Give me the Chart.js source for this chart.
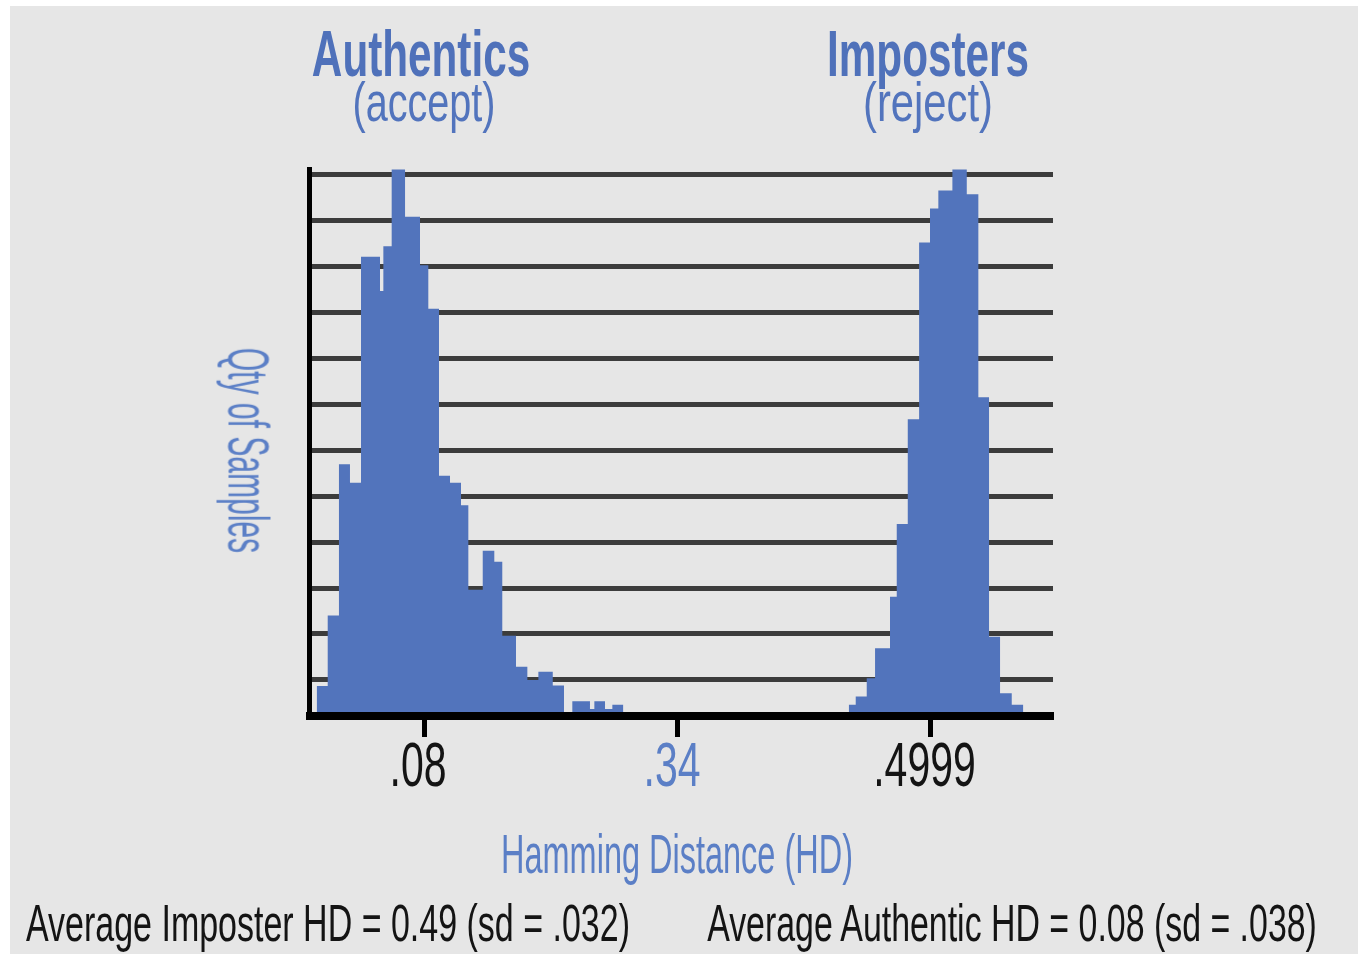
<!DOCTYPE html>
<html>
<head>
<meta charset="utf-8">
<script src="https://cdn.jsdelivr.net/npm/chart.js@4.4.1/dist/chart.umd.min.js"></script>
<style>
html,body{margin:0;padding:0;background:#fff;width:1358px;height:954px;overflow:hidden;}
#panel{position:absolute;left:10px;top:6px;width:1348px;height:948px;background:#e6e6e6;}
#c{position:absolute;left:0;top:0;width:1358px;height:954px;}
.t{position:absolute;white-space:nowrap;font-family:"Liberation Sans",Arial,sans-serif;transform-origin:50% 50%;}
.head{color:#4f71ba;font-weight:bold;font-size:64px;line-height:64px;top:21.8px;}
.sub{color:#5274bd;font-size:56px;line-height:56px;top:73.6px;}
.axt{color:#5b7fc6;}
.foot{color:#141414;font-size:51.5px;line-height:51.5px;top:898.4px;}
</style>
</head>
<body>
<div id="panel"></div>
<canvas id="c" width="1358" height="954"></canvas>

<div class="t head" style="left:421px;transform:translateX(-50%) scaleX(0.66);">Authentics</div>
<div class="t sub" style="left:423.8px;transform:translateX(-50%) scaleX(0.707);">(accept)</div>
<div class="t head" style="left:927.7px;transform:translateX(-50%) scaleX(0.66);">Imposters</div>
<div class="t sub" style="left:928.1px;transform:translateX(-50%) scaleX(0.746);">(reject)</div>
<div class="t axt" style="left:247.8px;top:421.5px;font-size:57px;line-height:57px;transform:translateX(-50%) rotate(90deg) scaleX(0.527);">Qty of Samples</div>
<div class="t axt" style="left:676.5px;top:825.6px;font-size:56px;line-height:56px;transform:translateX(-50%) scaleX(0.58);">Hamming Distance (HD)</div>
<div class="t foot" style="left:327.7px;transform:translateX(-50%) scaleX(0.66);">Average Imposter HD = 0.49 (sd = .032)</div>
<div class="t foot" style="left:1012px;transform:translateX(-50%) scaleX(0.658);">Average Authentic HD = 0.08 (sd = .038)</div>

<script>
// Histogram bins (x in bin units along the HD axis, y in sample-count grid units)
const authEdges  = [0, 0.98, 1.98, 2.96, 3.94, 5.63, 5.93, 6.67, 7.86, 9.19, 9.93, 10.88, 11.86, 12.84, 13.49, 14.77, 15.80, 16.51, 17.73, 18.74, 19.72, 21.0, 22.0, 22.74, 24.31, 24.70, 25.65, 26.30, 27.28];
const authCounts = [0.87, 2.40, 5.69, 5.29, 10.20, 9.46, 10.43, 12.10, 11.07, 10.02, 9.07, 5.44, 5.29, 4.80, 2.96, 3.81, 3.57, 1.96, 1.29, 1.00, 1.18, 0.88, 0, 0.54, 0.37, 0.54, 0.37, 0.46];

const impEdges  = [47.33, 47.95, 48.93, 49.67, 51.0, 51.60, 52.58, 53.59, 54.56, 55.30, 56.55, 57.83, 58.86, 59.81, 60.79, 61.83, 62.86];
const impCounts = [0.46, 0.64, 1.04, 1.69, 2.81, 4.39, 6.67, 10.51, 11.25, 11.64, 12.10, 11.56, 7.15, 1.94, 0.71, 0.46];

const tickValues = [9.55, 32.14, 54.6];
const tickLabels = ['.08', '.34', '.4999'];
const tickColors = ['#141414', '#5b7fc6', '#141414'];
const gridValues = [1, 2, 3, 4, 5, 6, 7, 8, 9, 10, 11, 12];

const BAR = '#5274bc';
const TICK_SQUEEZE = 0.65;
const LABEL_NUDGE = -6;

function stepPoints(edges, counts) {
  const pts = counts.map((c, i) => ({ x: edges[i], y: c }));
  pts.push({ x: edges[edges.length - 1], y: 0 });
  return pts;
}

const canvas = document.getElementById('c');
const ctx = canvas.getContext('2d');
// condensed lettering for canvas text (tick labels)
const origFill = ctx.fillText.bind(ctx);
ctx.fillText = function (text, x, y, maxW) {
  this.save();
  this.translate(x + LABEL_NUDGE, y);
  this.scale(TICK_SQUEEZE, 1);
  if (maxW === undefined) origFill(text, 0, 0); else origFill(text, 0, 0, maxW / TICK_SQUEEZE);
  this.restore();
};

new Chart(ctx, {
  type: 'line',
  data: {
    datasets: [
      { label: 'Authentics', data: stepPoints(authEdges, authCounts), stepped: true, fill: 'origin',
        backgroundColor: BAR, borderColor: BAR, borderWidth: 0, pointRadius: 0, tension: 0 },
      { label: 'Imposters', data: stepPoints(impEdges, impCounts), stepped: true, fill: 'origin',
        backgroundColor: BAR, borderColor: BAR, borderWidth: 0, pointRadius: 0, tension: 0 }
    ]
  },
  options: {
    responsive: false,
    animation: false,
    events: [],
    layout: { padding: { left: 309.5, top: 169, right: 305, bottom: 138 } },
    plugins: { legend: { display: false }, tooltip: { enabled: false }, title: { display: false } },
    scales: {
      x: {
        type: 'linear', min: -0.64, max: 65.5,
        afterBuildTicks: s => { s.ticks = tickValues.map(v => ({ value: v })); },
        afterFit: s => { s.height = 100; },
        grid: { display: true, drawOnChartArea: false, drawTicks: true, tickLength: 21, tickWidth: 5, tickColor: '#000', color: '#000' },
        border: { display: true, color: '#000', width: 8, z: 1 },
        ticks: {
          autoSkip: false, maxRotation: 0, minRotation: 0, padding: 0,
          font: { family: 'Liberation Sans', size: 63, lineHeight: 1 },
          color: c => tickColors[c.index],
          callback: (v, i) => tickLabels[i]
        }
      },
      y: {
        type: 'linear', min: 0.217, max: 12.11,
        afterBuildTicks: s => { s.ticks = gridValues.map(v => ({ value: v })); },
        afterFit: s => { s.width = 0; },
        grid: { color: '#3c3c3c', lineWidth: 5, drawTicks: false },
        border: { display: true, color: '#000', width: 5, z: 1 },
        ticks: { display: false }
      }
    }
  }
});
</script>
</body>
</html>
